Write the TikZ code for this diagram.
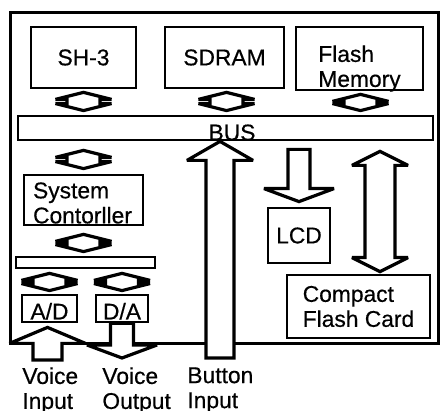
\documentclass[tikz,border=0pt]{standalone}
\usepackage{fontspec}
\setmainfont{Liberation Sans}[FakeBold=0.5]
\usetikzlibrary{calc}

\newcommand{\lblsize}{\fontsize{11.4pt}{12.5pt}\selectfont}
% hollow arrows: #1 top, #2 bottom, #3 half shaft, #4 half wing, #5 head
\newcommand{\biarr}[5]{%
  \draw[hollow] let \p1=#1, \p2=#2 in
    (\x1,\y1) -- (\x1+#4,\y1-#5) -- (\x1+#3,\y1-#5) -- (\x1+#3,\y2+#5)
    -- (\x1+#4,\y2+#5) -- (\x1,\y2) -- (\x1-#4,\y2+#5) -- (\x1-#3,\y2+#5)
    -- (\x1-#3,\y1-#5) -- (\x1-#4,\y1-#5) -- cycle;}
\newcommand{\uparr}[5]{%
  \draw[hollow] let \p1=#1, \p2=#2 in
    (\x1,\y1) -- (\x1+#4,\y1-#5) -- (\x1+#3,\y1-#5) -- (\x1+#3,\y2)
    -- (\x1-#3,\y2) -- (\x1-#3,\y1-#5) -- (\x1-#4,\y1-#5) -- cycle;}
\newcommand{\downarr}[5]{%
  \draw[hollow] let \p1=#1, \p2=#2 in
    (\x2,\y2) -- (\x2+#4,\y2+#5) -- (\x2+#3,\y2+#5) -- (\x2+#3,\y1)
    -- (\x2-#3,\y1) -- (\x2-#3,\y2+#5) -- (\x2-#4,\y2+#5) -- cycle;}

\begin{document}
\begin{tikzpicture}[x=0.5pt, y=-0.5pt,
    box/.style={draw, line width=1.4pt, inner sep=0pt, font=\lblsize},
    hollow/.style={draw, line width=1.6pt, fill=white, line join=miter, miter limit=3},
    lbl/.style={inner sep=0pt, font=\lblsize, align=left}]
  \useasboundingbox (0,0) rectangle (440,411);
  % Board
  \node[box, line width=1.5pt, minimum width=214pt, minimum height=165.5pt] (board) at (224,178.5) {};
  % Memory row
  \node[box, minimum width=52.5pt, minimum height=30.5pt] (sh3) at (83.5,57.5) {SH-3};
  \node[box, minimum width=59.5pt, minimum height=30.5pt] (sdram) at (224.5,57.5) {SDRAM};
  \node[box, minimum width=63.5pt, minimum height=31.5pt] (flash) at (359.5,58.5) {};
  \node[lbl] (flashtxt) at ($(flash.center)+(0,10)$) {Flash\\Memory};
  % Bus
  \node[box, minimum width=207.5pt, minimum height=12pt] (bus) at (225.5,128) {};
  \node[lbl, anchor=base] (bustxt) at ($(bus.south)+(6.5,-1)$) {BUS};
  % Controller side
  \node[box, minimum width=59.5pt, minimum height=25pt] (ctrl) at (83.5,200) {};
  \node[lbl] (ctrltxt) at ($(ctrl.center)+(-1,3)$) {System\\Contorller};
  \node[box, minimum width=69.5pt, minimum height=5.5pt] (sbus) at (85.5,262.5) {};
  \node[box, minimum width=27.5pt, minimum height=13.5pt, text height=11pt, text depth=0pt] (ad) at (49.5,308.5) {A/D};
  \node[box, minimum width=26pt, minimum height=13.5pt, text height=11pt, text depth=0pt] (da) at (122,308.5) {D/A};
  % Peripherals
  \node[box, minimum width=31pt, minimum height=27.5pt] (lcd) at (299,235.5) {LCD};
  \node[box, minimum width=71.5pt, minimum height=31.5pt, align=left] (cf) at (358.5,306.5) {Compact\\Flash Card};
  % Outside labels
  \node[lbl, anchor=north west] (vin) at (22,367) {Voice\\Input};
  \node[lbl, anchor=north west] (vout) at (102,367) {Voice\\Output};
  \node[lbl, anchor=north west] (bin) at (187,367) {Button\\Input};
  % Bus arrows
  \biarr{($(sh3.south)+(0,3)$)}{($(bus.north -| sh3.south)+(0,-4)$)}{8.25pt}{14pt}{3.5pt}
  \biarr{($(sdram.south)+(2,3)$)}{($(bus.north -| sdram.south)+(0,-4)$)}{8.25pt}{14pt}{3.5pt}
  \biarr{($(flash.south)+(1,3)$)}{($(bus.north -| flash.south)+(0,-4)$)}{8.25pt}{14pt}{3.5pt}
  \biarr{($(bus.south -| ctrl.north)+(0,9)$)}{($(ctrl.north)+(0,-5)$)}{8.25pt}{14pt}{3.5pt}
  \biarr{($(ctrl.south)+(0,8)$)}{($(sbus.north -| ctrl.south)+(0,-4)$)}{8.25pt}{14pt}{3.5pt}
  \biarr{($(sbus.south -| ad.north)+(0,4)$)}{($(ad.north)+(0,-3)$)}{8.25pt}{14pt}{3.5pt}
  \biarr{($(sbus.south -| da.north)+(0,4)$)}{($(da.north)+(0,-3)$)}{8.25pt}{14pt}{3.5pt}
  \downarr{($(bus.south -| lcd.north)+(0,8)$)}{($(lcd.north)+(0,-5)$)}{5.5pt}{17.5pt}{6.5pt}
  \biarr{($(bus.south -| cf.north)+(21.5,10)$)}{($(cf.north)+(21.5,-2)$)}{7.5pt}{14pt}{7pt}
  % Inputs and outputs
  \uparr{($(bus.south)+(-5.5,0)$)}{($(bin.north)+(0,-9)$)}{7pt}{16.5pt}{9.5pt}
  \uparr{($(ad.south)+(-2,4)$)}{($(vin.north -| ad.south)+(0,-7)$)}{7.25pt}{19pt}{8pt}
  \downarr{(da.south)}{($(vout.north -| da.south)+(0,-9)$)}{5.75pt}{17.5pt}{6.5pt}
\end{tikzpicture}
\end{document}
